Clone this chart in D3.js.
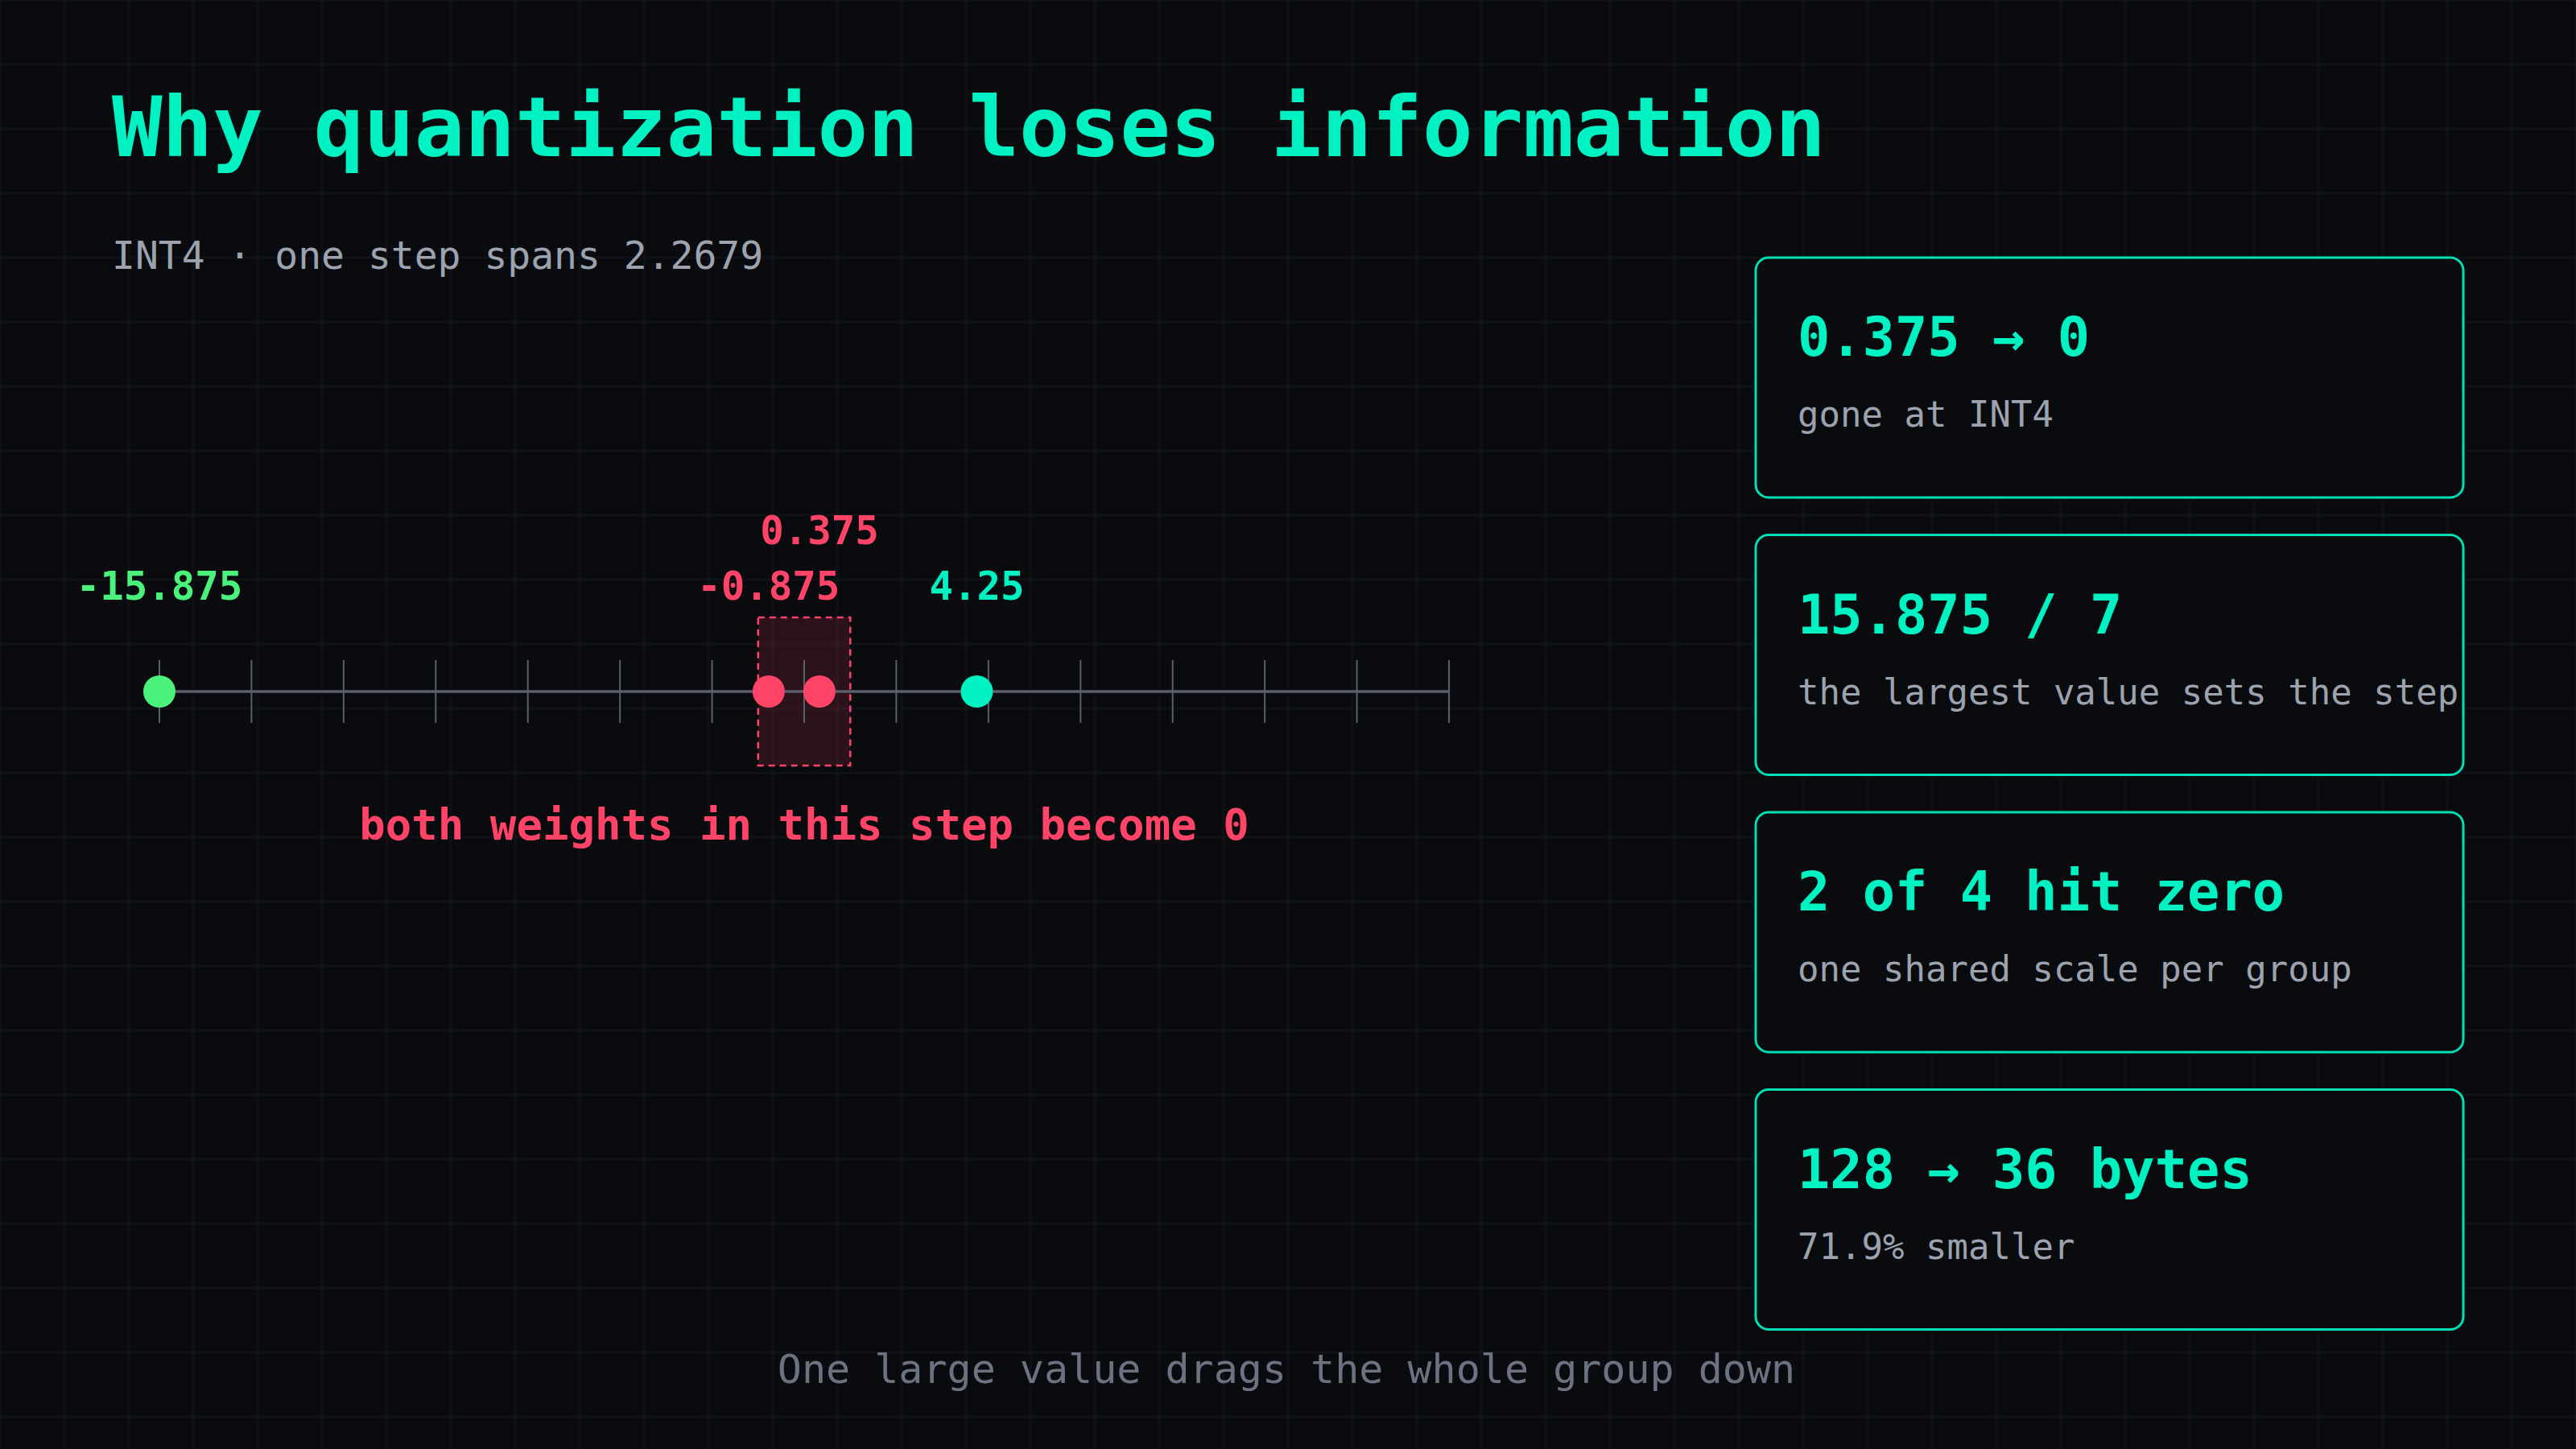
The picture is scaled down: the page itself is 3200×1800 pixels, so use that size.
<!DOCTYPE html>
<html><head><meta charset="utf-8">
<script src="https://cdn.jsdelivr.net/npm/d3@7"></script>
<style>html,body{margin:0;padding:0;background:#0a0b0f;}svg{display:block}</style>
</head><body>
<script>
const title = "Why quantization loses information";
const subtitle = "INT4 · one step spans 2.2679";
const footer = "One large value drags the whole group down";
const weights = [-15.875, -0.875, 0.375, 4.25];
const weightLabels = ["-15.875", "-0.875", "0.375", "4.25"];
const weightKinds = ["max", "zero", "zero", "keep"];
const step = 2.2679;
const tickSteps = [-7,-6,-5,-4,-3,-2,-1,0,1,2,3,4,5,6,7];
const zeroNote = "both weights in this step become 0";
const cardTitles = ["0.375 → 0", "15.875 / 7", "2 of 4 hit zero", "128 → 36 bytes"];
const cardNotes = ["gone at INT4", "the largest value sets the step", "one shared scale per group", "71.9% smaller"];

const W=3200,H=1800, font="'DejaVu Sans Mono', monospace";
const col={max:"#4af27c",zero:"#ff4468",keep:"#00f2c3"};
const svg=d3.select("body").append("svg").attr("width",W).attr("height",H);
svg.append("rect").attr("width",W).attr("height",H).attr("fill","#0a0b0f");
const g=svg.append("g").attr("stroke","#12171b").attr("stroke-width",1.5);
d3.range(0,W+1,80).forEach(x=>g.append("line").attr("x1",x).attr("x2",x).attr("y1",0).attr("y2",H));
d3.range(0,H+1,80).forEach(y=>g.append("line").attr("y1",y).attr("y2",y).attr("x1",0).attr("x2",W));

svg.append("text").attr("x",139).attr("y",194).attr("font-family",font).attr("font-weight","bold").attr("font-size",104).attr("fill","#00f2c3").text(title);
svg.append("text").attr("x",139).attr("y",334).attr("font-family",font).attr("font-size",48).attr("fill","#9ca3af").text(subtitle);

const x=d3.scaleLinear().domain([-15.875,15.875]).range([198,1800]);
const yL=859;
svg.append("rect").attr("x",x(-step/2)).attr("width",x(step/2)-x(-step/2)).attr("y",767).attr("height",184)
 .attr("fill","#ff4468").attr("fill-opacity",0.14).attr("stroke","#ff4468").attr("stroke-width",2.5).attr("stroke-dasharray","8,6");
svg.append("line").attr("x1",x(-15.875)).attr("x2",x(15.875)).attr("y1",yL).attr("y2",yL).attr("stroke","#5b5f6b").attr("stroke-width",3.5);
svg.selectAll(".tk").data(tickSteps).join("line").attr("x1",d=>x(d*step)).attr("x2",d=>x(d*step)).attr("y1",820).attr("y2",898).attr("stroke","#5b5f6b").attr("stroke-width",2);
svg.selectAll(".dot").data(weights).join("circle").attr("cx",d=>x(d)).attr("cy",yL).attr("r",20).attr("fill",(d,i)=>col[weightKinds[i]]);
const ly=[745,745,676,745];
svg.selectAll(".lb").data(weights).join("text").attr("x",d=>x(d)).attr("y",(d,i)=>ly[i]).attr("text-anchor","middle")
 .attr("font-family",font).attr("font-weight","bold").attr("font-size",49).attr("fill",(d,i)=>col[weightKinds[i]]).text((d,i)=>weightLabels[i]);
svg.append("text").attr("x",x(0)).attr("y",1043).attr("text-anchor","middle").attr("font-family",font).attr("font-weight","bold").attr("font-size",54).attr("fill","#ff4468").text(zeroNote);

cardTitles.forEach((t,i)=>{
  const top=320+i*344.5;
  svg.append("rect").attr("x",2181).attr("y",top).attr("width",879).attr("height",298).attr("rx",16)
   .attr("fill","#0a0b0f").attr("stroke","#00e0b4").attr("stroke-width",3);
  svg.append("text").attr("x",2233).attr("y",top+122).attr("font-family",font).attr("font-weight","bold").attr("font-size",67).attr("fill","#00f2c3").text(t);
  svg.append("text").attr("x",2233).attr("y",top+210).attr("font-family",font).attr("font-size",44).attr("fill","#9ca3af").text(cardNotes[i]);
});
svg.append("text").attr("x",1598).attr("y",1718).attr("text-anchor","middle").attr("font-family",font).attr("font-size",50).attr("fill","#6b7280").text(footer);
</script></body></html>
